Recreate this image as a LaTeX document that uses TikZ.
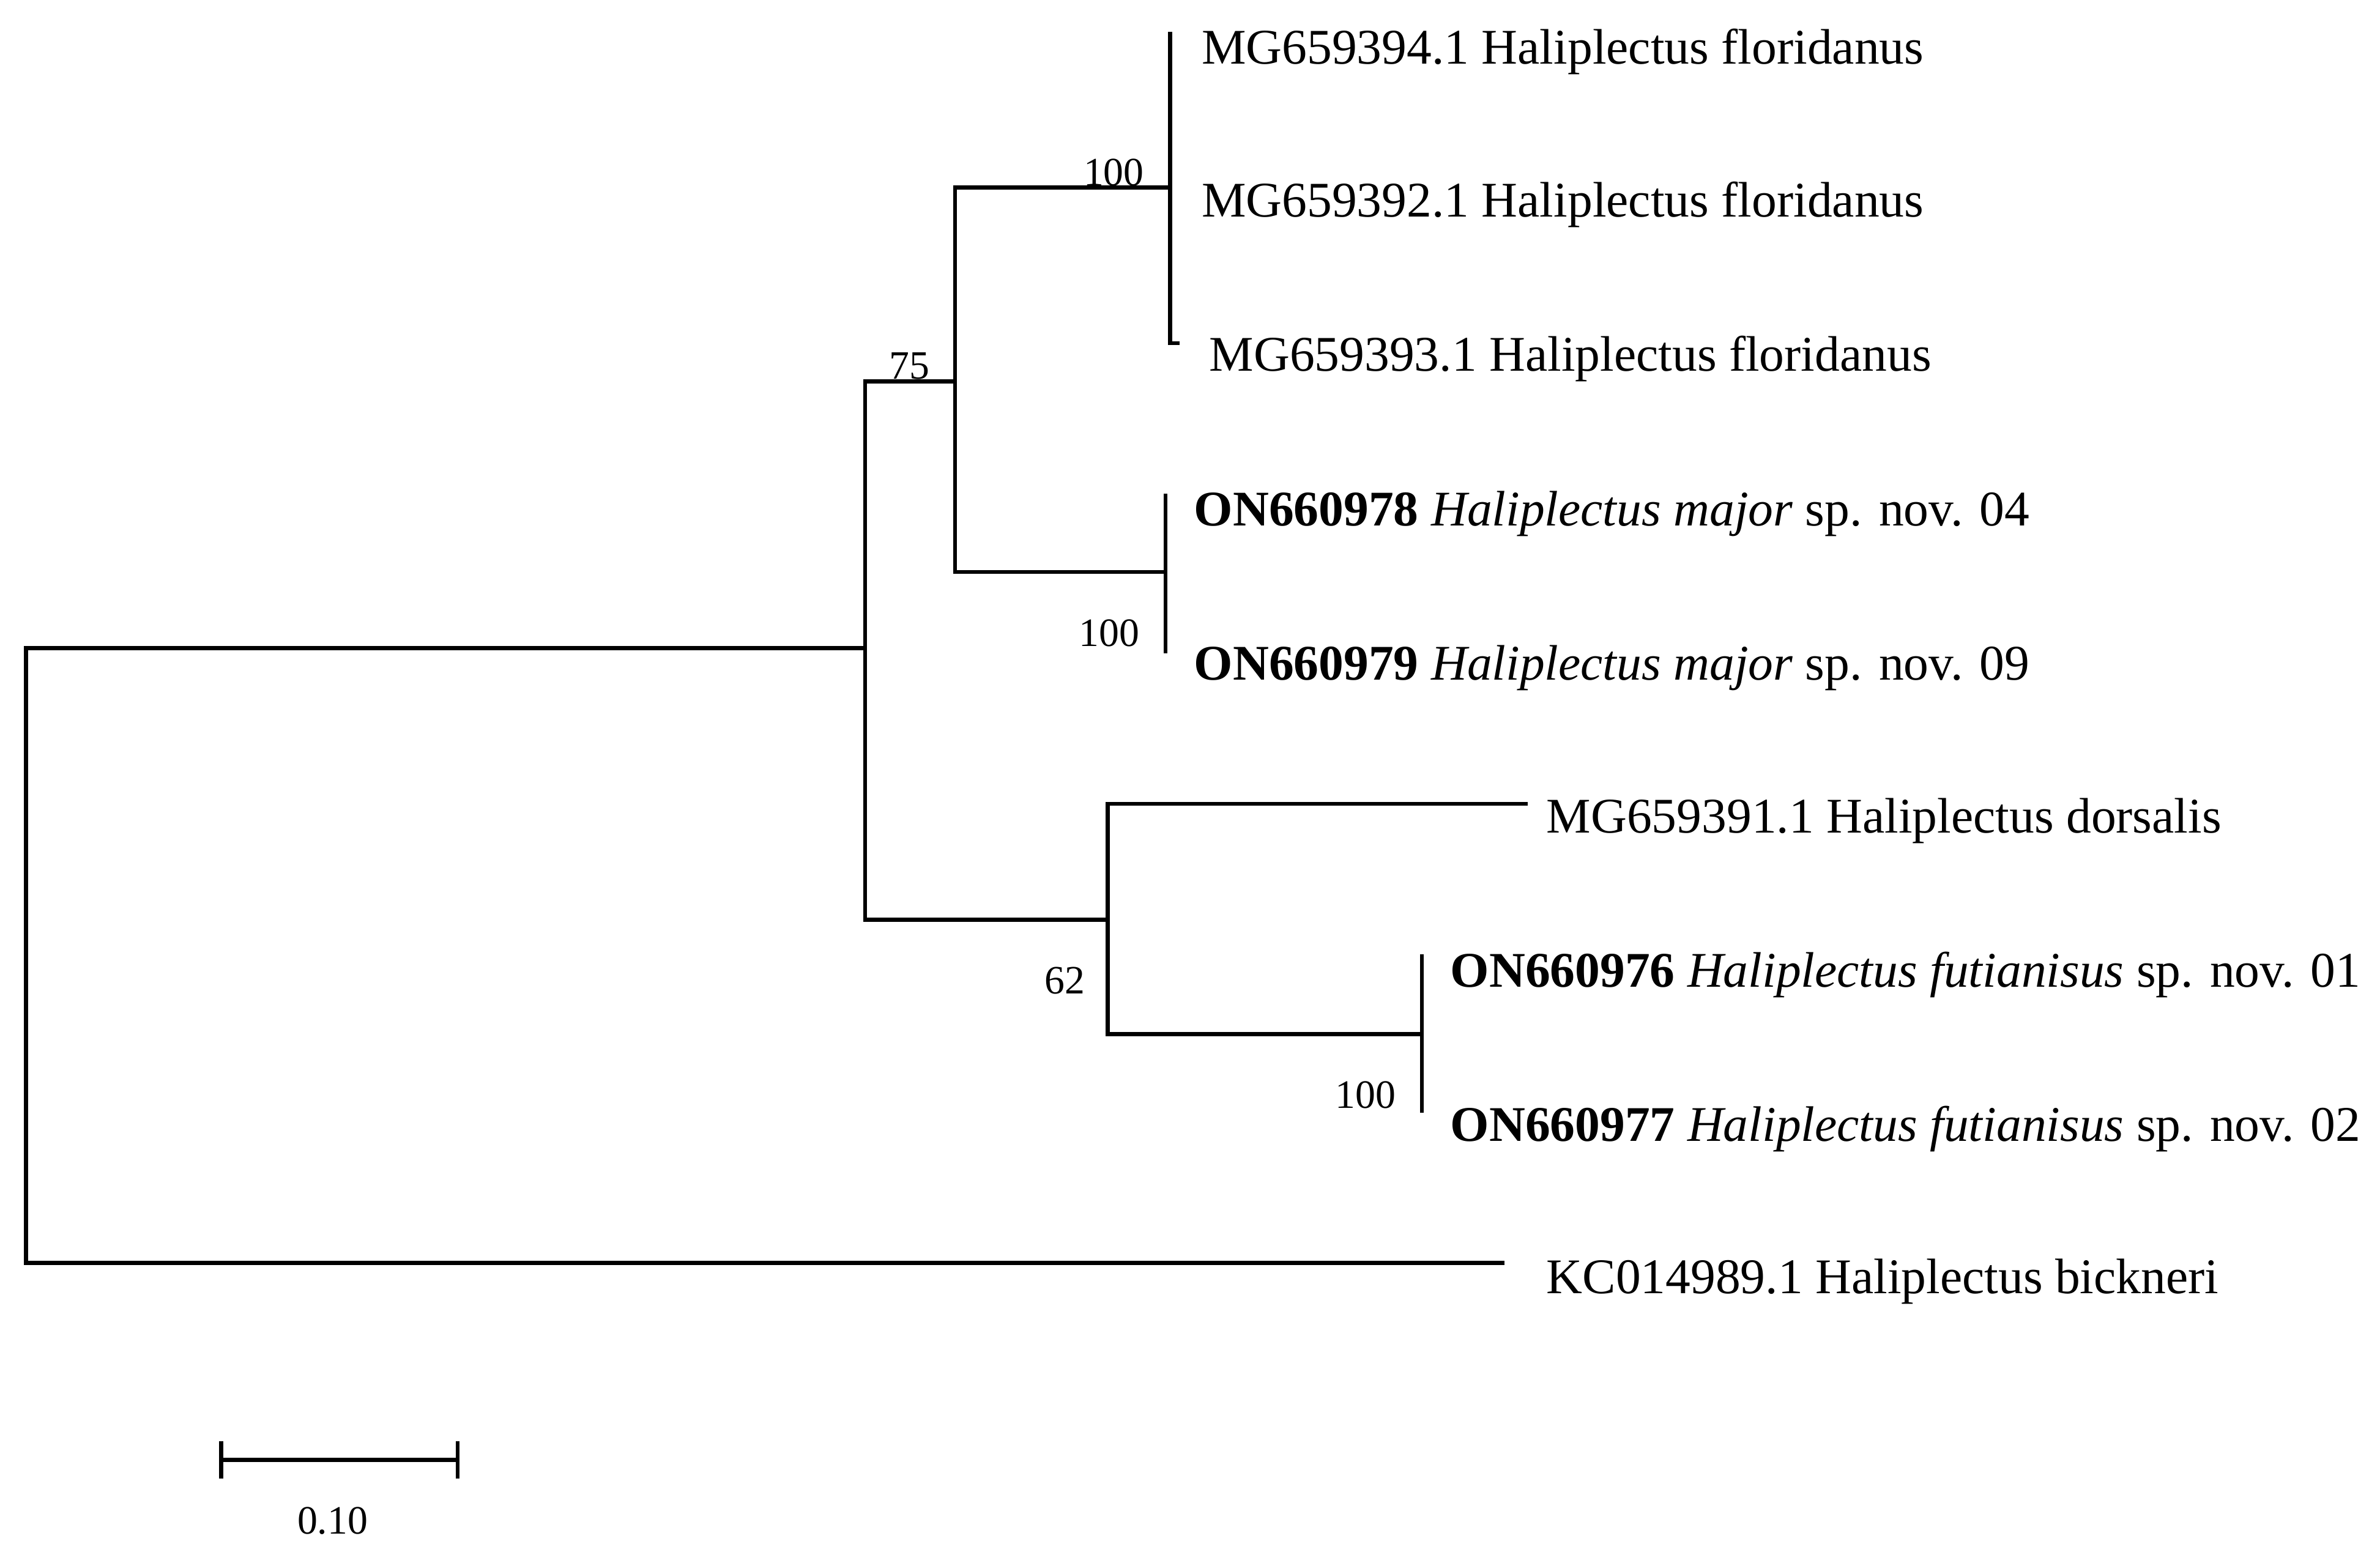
\documentclass[tikz,border=0pt]{standalone}
\usepackage{fontspec}
\setmainfont{Liberation Serif}
\begin{document}
\begin{tikzpicture}[x=0.01cm,y=-0.01cm,
  br/.style={line width=0.75pt,line cap=rect},
  lf/.style={anchor=west,font=\fontsize{9.3}{11}\selectfont,inner sep=0pt},
  bs/.style={font=\fontsize{7.5}{9}\selectfont,inner sep=0pt}]
\useasboundingbox (0,0) rectangle (1560,1012);
\coordinate (r) at (17,425); \coordinate (rb) at (17,828);
\coordinate (A) at (567,425); \coordinate (At) at (567,250); \coordinate (Ab) at (567,603);
\coordinate (B) at (626,250); \coordinate (Bt) at (626,123); \coordinate (Bb) at (626,375);
\coordinate (C) at (767,123); \coordinate (Ct) at (767,22); \coordinate (Cb) at (767,225);
\coordinate (D) at (764,375); \coordinate (Dt) at (764,325); \coordinate (Db) at (764,427);
\coordinate (E) at (726,603); \coordinate (Et) at (726,527); \coordinate (Eb) at (726,678);
\coordinate (F) at (932,678); \coordinate (Ft) at (932,627); \coordinate (Fb) at (932,728);
\coordinate (l6) at (1000,527); \coordinate (l9) at (985,828);
\draw[br] (r) -- (rb); \draw[br] (r) -- (A); \draw[br] (rb) -- (l9);
\draw[br] (At) -- (Ab); \draw[br] (At) -- (B); \draw[br] (Ab) -- (E);
\draw[br] (Bt) -- (Bb); \draw[br] (Bt) -- (C); \draw[br] (Bb) -- (D);
\draw[br] (Ct) -- (Cb); \draw[br] (Cb) -- ++(5,0);
\draw[br] (Dt) -- (Db);
\draw[br] (Et) -- (Eb); \draw[br] (Et) -- (l6); \draw[br] (Eb) -- (F);
\draw[br] (Ft) -- (Fb);
\node[lf] (n1) at (787,34) {MG659394.1 Haliplectus floridanus};
\node[lf] (n2) at (787,134) {MG659392.1 Haliplectus floridanus};
\node[lf] (n3) at (792,235) {MG659393.1 Haliplectus floridanus};
\node[lf] (n4) at (782,337) {\textbf{ON660978} \textit{Haliplectus major} sp. nov. 04};
\node[lf] (n5) at (782,438) {\textbf{ON660979} \textit{Haliplectus major} sp. nov. 09};
\node[lf] (n6) at (1013,538) {MG659391.1 Haliplectus dorsalis};
\node[lf] (n7) at (950,639) {\textbf{ON660976} \textit{Haliplectus futianisus} sp. nov. 01};
\node[lf] (n8) at (950,740) {\textbf{ON660977} \textit{Haliplectus futianisus} sp. nov. 02};
\node[lf] (n9) at (1013,840) {KC014989.1 Haliplectus bickneri};
\node[bs] (b1) at (596,240) {75};
\node[bs] (b2) at (730,113) {100};
\node[bs] (b3) at (727,415) {100};
\node[bs] (b4) at (698,643) {62};
\node[bs] (b5) at (895,718) {100};
\coordinate (s1) at (145,957); \coordinate (s2) at (300,957);
\draw[br] (s1) -- (s2);
\draw[br] (145,946) -- (145,968); \draw[br] (300,946) -- (300,968);
\node[bs] (sl) at (218,997) {0.10};
\end{tikzpicture}
\end{document}
